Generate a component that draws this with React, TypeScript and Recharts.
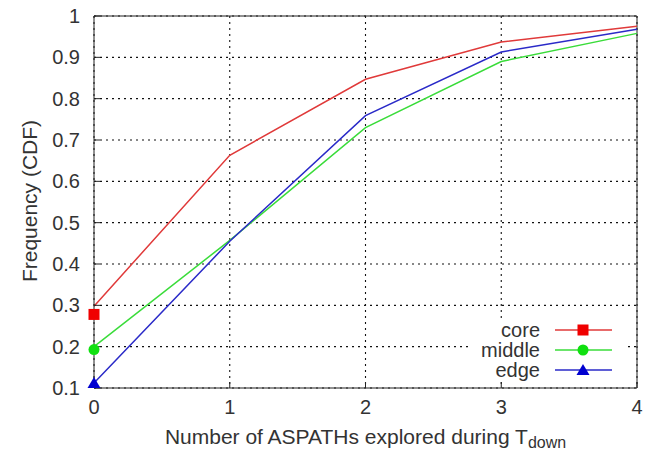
import {
  ComposedChart,
  Line,
  Scatter,
  XAxis,
  YAxis,
  CartesianGrid,
  ReferenceLine,
  Legend,
} from "recharts";

// explored ASPATH counts (x) and CDF values per location class
const steps = [0, 1, 2, 3, 4];
const core = [0.298, 0.663, 0.847, 0.937, 0.975];
const middle = [0.2, 0.457, 0.73, 0.89, 0.958];
const edge = [0.112, 0.455, 0.759, 0.913, 0.968];

// gnuplot draws the point symbol a touch apart from the line start
const coreMark = [0.278];
const middleMark = [0.193];
const edgeMark = [0.112];

const xTicks = [0, 1, 2, 3, 4];
const yTicks = [0.1, 0.2, 0.3, 0.4, 0.5, 0.6, 0.7, 0.8, 0.9, 1];

const data = steps.map((x, i) => ({
  x,
  core: core[i],
  middle: middle[i],
  edge: edge[i],
}));

const FONT = "'Liberation Sans', Arial, Helvetica, sans-serif";
const TEXT = "#333";

const series = [
  { key: "core", line: "#e03a3a", mark: "#f00000", shape: "square", marks: coreMark },
  { key: "middle", line: "#3adc3a", mark: "#10e010", shape: "circle", marks: middleMark },
  { key: "edge", line: "#2a2ac8", mark: "#0000d0", shape: "triangle", marks: edgeMark },
];

const Marker = ({ cx, cy, shape, color }: any) => {
  if (cx == null || cy == null) return null;
  if (shape === "square")
    return <rect x={cx - 5.5} y={cy - 5.5} width={11} height={11} fill={color} />;
  if (shape === "circle") return <circle cx={cx} cy={cy} r={5.5} fill={color} />;
  return (
    <polygon
      points={`${cx},${cy - 6} ${cx - 6.5},${cy + 5} ${cx + 6.5},${cy + 5}`}
      fill={color}
    />
  );
};

const LegendBox = () => (
  <div style={{ fontFamily: FONT, fontSize: 20, color: TEXT, paddingTop: 2 }}>
    {series.map((s) => (
      <div key={s.key} style={{ display: "flex", alignItems: "center", height: 20 }}>
        <span style={{ width: 72, textAlign: "right", lineHeight: "20px" }}>{s.key}</span>
        <svg width={60} height={20} style={{ marginLeft: 15 }}>
          <line x1={0} y1={10} x2={57} y2={10} stroke={s.line} strokeWidth={1.5} />
          <Marker cx={28} cy={10} shape={s.shape} color={s.mark} />
        </svg>
      </div>
    ))}
  </div>
);

const XLabel = ({ viewBox }: any) => {
  const cx = viewBox.x + viewBox.width / 2;
  return (
    <text x={cx} y={444} textAnchor="middle" fill={TEXT} fontFamily={FONT} fontSize={21}>
      Number of ASPATHs explored during T
      <tspan fontSize={16} dy={4}>
        down
      </tspan>
    </text>
  );
};

const YLabel = () => (
  <text
    x={37}
    y={201}
    transform="rotate(-90 37 201)"
    textAnchor="middle"
    fill={TEXT}
    fontFamily={FONT}
    fontSize={21}
  >
    Frequency (CDF)
  </text>
);

export default function App() {
  return (
    <div style={{ position: "absolute", left: 0, top: 0, background: "#fff" }}>
      <ComposedChart
        width={656}
        height={455}
        data={data}
        margin={{ top: 16, right: 19, bottom: 0, left: 0 }}
      >
        <CartesianGrid stroke="#111" strokeDasharray="2 4" strokeWidth={1.1} />
        <XAxis
          dataKey="x"
          type="number"
          domain={[0, 4]}
          ticks={xTicks}
          height={67}
          tickSize={-6}
          tickMargin={18}
          stroke="#222"
          tick={{ fill: TEXT, fontFamily: FONT, fontSize: 20 }}
          label={<XLabel />}
        />
        <YAxis
          type="number"
          domain={[0.1, 1]}
          ticks={yTicks}
          allowDataOverflow
          width={94}
          tickSize={-6}
          tickMargin={20}
          stroke="#222"
          tick={{ fill: TEXT, fontFamily: FONT, fontSize: 20 }}
          label={<YLabel />}
        />
        <ReferenceLine y={1} stroke="#222" />
        <ReferenceLine x={4} stroke="#222" />
        {series.map((s) => (
          <Line
            key={s.key}
            dataKey={s.key}
            stroke={s.line}
            strokeWidth={1.5}
            dot={false}
            activeDot={false}
            isAnimationActive={false}
            legendType="none"
          />
        ))}
        {series.map((s) => (
          <Scatter
            key={s.key + "-mark"}
            data={s.marks.map((v) => ({ x: 0, y: v }))}
            dataKey="y"
            isAnimationActive={false}
            legendType="none"
            shape={(p: any) => <Marker cx={p.cx} cy={p.cy} shape={s.shape} color={s.mark} />}
          />
        ))}
        <Legend
          layout="vertical"
          align="center"
          verticalAlign="middle"
          content={<LegendBox />}
          wrapperStyle={{
            position: "absolute",
            left: 468,
            top: 318,
            width: 158,
            height: 64,
            background: "#fff",
          }}
        />
      </ComposedChart>
    </div>
  );
}
